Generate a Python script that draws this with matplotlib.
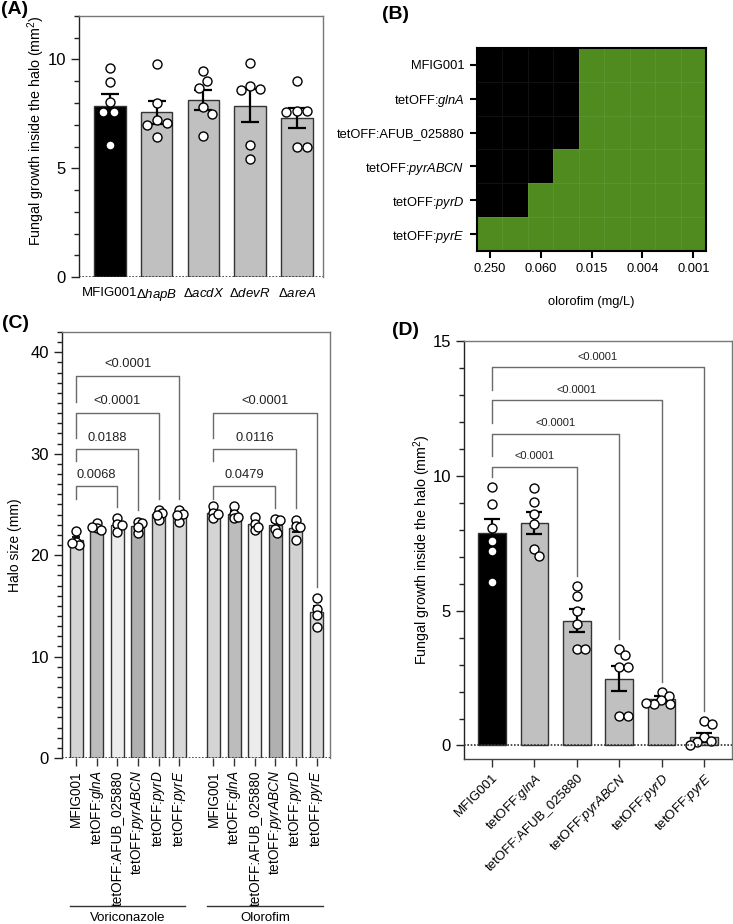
import numpy as np
import matplotlib.pyplot as plt
from matplotlib.colors import ListedColormap
from matplotlib.ticker import MultipleLocator

plt.rcParams['font.family'] = ['Liberation Sans', 'DejaVu Sans']
plt.rcParams['mathtext.fontset'] = 'custom'
plt.rcParams['mathtext.rm'] = 'Liberation Sans'
plt.rcParams['mathtext.it'] = 'Liberation Sans:italic'
plt.rcParams['mathtext.bf'] = 'Liberation Sans:bold'

# ---- data ----
strains = ['MFIG001', r'tetOFF:$\mathit{glnA}$', 'tetOFF:AFUB_025880',
           r'tetOFF:$\mathit{pyrABCN}$', r'tetOFF:$\mathit{pyrD}$', r'tetOFF:$\mathit{pyrE}$']

# (A) deletion mutants
a_labels = ['MFIG001', r'Δ$\mathit{hapB}$', r'Δ$\mathit{acdX}$', r'Δ$\mathit{devR}$', r'Δ$\mathit{areA}$']
a_means = [7.88, 7.57, 8.12, 7.88, 7.31]
a_sem = [0.54, 0.54, 0.46, 0.75, 0.48]
a_points = [[9.6, 8.95, 8.05, 7.6, 7.6, 6.05],
            [9.8, 8.0, 7.2, 7.1, 7.0, 6.45],
            [9.45, 9.0, 8.7, 7.8, 7.5, 6.5],
            [9.85, 8.8, 8.65, 8.6, 6.05, 5.43],
            [9.0, 7.65, 7.65, 7.6, 6.0, 6.0]]

# (B) growth (1) / no growth (0) on olorofim dilutions
b_conc = ['0.250', '0.125', '0.060', '0.030', '0.015', '0.008', '0.004', '0.002', '0.001']
b_growth = [[0, 0, 0, 0, 1, 1, 1, 1, 1],
            [0, 0, 0, 0, 1, 1, 1, 1, 1],
            [0, 0, 0, 0, 1, 1, 1, 1, 1],
            [0, 0, 0, 1, 1, 1, 1, 1, 1],
            [0, 0, 1, 1, 1, 1, 1, 1, 1],
            [1, 1, 1, 1, 1, 1, 1, 1, 1]]

# (C) halo size
c_groups = ['Voriconazole', 'Olorofim']
c_vori = [[22.4, 21.3, 21.0, 21.2], [23.2, 22.65, 22.5, 22.75], [23.65, 23.1, 22.3, 23.0],
          [23.3, 23.15, 22.15, 22.8], [24.4, 24.15, 23.5, 24.0], [24.4, 23.3, 24.1, 24.0]]
c_olo = [[24.85, 24.15, 23.65, 24.1], [24.85, 24.1, 23.65, 23.8], [23.75, 23.1, 22.5, 22.8],
         [23.55, 23.5, 22.55, 22.15], [23.5, 22.9, 22.8, 21.5], [15.75, 14.7, 14.05, 12.95]]
c_pvals_vori = ['0.0068', '0.0188', '<0.0001', '<0.0001']   # vs MFIG001 for strains 2..5
c_pvals_olo = ['0.0479', '0.0116', '<0.0001']             # vs MFIG001 for strains 3..5

# (D) tetOFF strains growth inside halo
d_means = [7.88, 8.25, 4.63, 2.48, 1.73, 0.3]
d_sem = [0.53, 0.4, 0.42, 0.45, 0.1, 0.17]
d_points = [[9.6, 8.95, 8.05, 7.6, 7.2, 6.05],
            [9.55, 9.03, 8.57, 8.23, 7.27, 7.01],
            [5.9, 5.55, 5.0, 4.52, 3.57, 3.57],
            [3.59, 3.35, 2.92, 2.92, 1.09, 1.09],
            [2.0, 1.83, 1.67, 1.52, 1.52, 1.59],
            [0.9, 0.78, 0.32, 0.16, 0.12, 0.0]]
d_pvals = ['<0.0001', '<0.0001', '<0.0001', '<0.0001']  # vs MFIG001 for strains 2..5

GREEN = '#4f8b1f'
LINE = '#6a6a6a'

fig = plt.figure(figsize=(7.33, 9.24), dpi=100)
axA = fig.add_axes([0.1078, 0.7002, 0.3329, 0.2825])
axB = fig.add_axes([0.6508, 0.7284, 0.3124, 0.2197])
axC = fig.add_axes([0.0846, 0.1797, 0.3656, 0.4610])
axD = fig.add_axes([0.6330, 0.1786, 0.3656, 0.4524])


def swarm(ax, x, vals, diam=9.0):
    # simple beeswarm in pixel space
    bb = ax.get_position()
    fw, fh = fig.get_size_inches() * fig.dpi
    x0, x1 = ax.get_xlim()
    y0, y1 = ax.get_ylim()
    sx = bb.width * fw / (x1 - x0)
    sy = bb.height * fh / (y1 - y0)
    placed = []
    xs = []
    for v in vals:
        y = v * sy
        cands = [0.0]
        for px, py in placed:
            dy = abs(y - py)
            if dy < diam:
                w = np.sqrt(diam ** 2 - dy ** 2)
                cands += [px + w, px - w]
        cands.sort(key=abs)
        for c in cands:
            if all((c - px) ** 2 + (y - py) ** 2 >= diam ** 2 - 1e-6 for px, py in placed):
                break
        placed.append((c, y))
        xs.append(x + c / sx)
    ax.scatter(xs, vals, s=42, facecolor='white', edgecolor='black', linewidth=1,
               zorder=5, clip_on=False)


def frame(ax, zero_dotted=True):
    ax.spines['left'].set_color('#222222')
    for s in ['top', 'right']:
        ax.spines[s].set_color('#777777')
    for s in ax.spines.values():
        s.set_linewidth(1)
    if zero_dotted:
        ax.axhline(0, color='#333333', lw=1.2, ls=(0, (1, 1)), zorder=6)
    ax.tick_params(axis='y', which='major', length=6, width=1, labelsize=12, color='#222222')
    ax.tick_params(axis='y', which='minor', length=3.5, width=1, color='#222222')


def bracket(ax, x1, x2, y, left_drop, right_end, text, fs):
    ax.plot([x1, x1, x2, x2], [y - left_drop, y, y, right_end], color=LINE, lw=1, zorder=2,
            clip_on=False)
    ax.annotate(text, ((x1 + x2) / 2, y), xytext=(0, 4), textcoords='offset points',
                ha='center', va='bottom', fontsize=fs, color='#222222')


# ---- (A) ----
xa = np.arange(len(a_labels))
axA.set_xlim(-0.66, 4.56)
axA.set_ylim(0, 12)
axA.bar(xa, a_means, width=0.67, color=['black'] + ['#c0c0c0'] * 4, edgecolor='#333333',
        linewidth=1, zorder=2)
axA.errorbar(xa, a_means, yerr=a_sem, fmt='none', ecolor='black', elinewidth=1.6,
             capsize=6.5, capthick=1.6, zorder=4)
for i, pts in enumerate(a_points):
    swarm(axA, xa[i], pts, diam=10.5)
frame(axA)
axA.spines['bottom'].set_visible(False)
axA.yaxis.set_major_locator(MultipleLocator(5))
axA.yaxis.set_minor_locator(MultipleLocator(1))
axA.set_xticks(xa)
axA.set_xticklabels(a_labels, fontsize=9.5)
axA.tick_params(axis='x', length=0, pad=7)
axA.set_ylabel('Fungal growth inside the halo (mm$^2$)', fontsize=10.3)
axA.yaxis.set_label_coords(-0.131, 0.56)

# ---- (B) ----
grid = np.array(b_growth)
axB.pcolormesh(np.arange(grid.shape[1] + 1) - 0.5, np.arange(grid.shape[0] + 1) - 0.5, grid,
               cmap=ListedColormap(['black', GREEN]), vmin=0, vmax=1,
               edgecolors=(1, 1, 1, 0.07), linewidth=0.6)
axB.set_xlim(-0.5, grid.shape[1] - 0.5)
axB.set_ylim(grid.shape[0] - 0.5, -0.5)
axB.set_yticks(np.arange(len(strains)))
axB.set_yticklabels(strains, fontsize=9.3)
axB.set_xticks(np.arange(0, len(b_conc), 2))
axB.set_xticklabels(b_conc[::2], fontsize=9.3)
axB.tick_params(length=5, width=1.5, pad=4)
for s in axB.spines.values():
    s.set_linewidth(1.5)
axB.set_xlabel('olorofim (mg/L)', fontsize=9.3, labelpad=15)

# ---- (C) ----
c_colors = ['#d4d4d4', '#bcbcbc', '#ececec', '#b0b0b0', '#d2d2d2', '#d8d8d8']
gap = 6.66
xc = [np.arange(6), np.arange(6) + gap]
axC.set_xlim(-0.68, 5 + gap + 0.65)
axC.set_ylim(0, 42)
for g, data in enumerate([c_vori, c_olo]):
    means = [np.mean(p) for p in data]
    sems = [np.std(p, ddof=1) / np.sqrt(len(p)) for p in data]
    axC.bar(xc[g], means, width=0.63, color=c_colors, edgecolor='#333333', linewidth=1, zorder=2)
    axC.errorbar(xc[g], means, yerr=sems, fmt='none', ecolor='black', elinewidth=1.3,
                 capsize=3, capthick=1.3, zorder=4)
    for i, pts in enumerate(data):
        swarm(axC, xc[g][i], pts, diam=4.5)
frame(axC)
axC.spines['bottom'].set_visible(False)
axC.yaxis.set_major_locator(MultipleLocator(10))
axC.yaxis.set_minor_locator(MultipleLocator(1))
axC.set_xticks(np.concatenate(xc))
axC.set_xticklabels(strains * 2, rotation=90, fontsize=9.8, va='top', ha='center')
axC.tick_params(axis='x', length=6, width=1, color='#333333', pad=3)
axC.set_ylabel('Halo size (mm)', fontsize=10)
axC.yaxis.set_label_coords(-0.149, 0.5)

levels_c = [26.8, 30.42, 34.05, 37.68]
drops_c = [1.25, 1.1, 2.5, 2.6]
for g, pv in enumerate([c_pvals_vori, c_pvals_olo]):
    data = [c_vori, c_olo][g]
    targets = list(range(6 - len(pv), 6))
    for k, (t, p) in enumerate(zip(targets, pv)):
        bracket(axC, xc[g][0], xc[g][t], levels_c[k], drops_c[k], max(data[t]) + 1.1, p, 9.3)

trans = axC.get_xaxis_transform()
for g, name in enumerate(c_groups):
    x1, x2 = xc[g][0] - 0.3, xc[g][-1] + 0.3
    axC.plot([x1, x2], [-0.347, -0.347], transform=trans, color='#333333', lw=1, clip_on=False)
    axC.text((x1 + x2) / 2, -0.362, name, transform=trans, ha='center', va='top', fontsize=9.5)

# ---- (D) ----
xd = np.arange(len(strains))
axD.set_xlim(-0.66, 5.66)
axD.set_ylim(-0.5, 15)
axD.bar(xd, d_means, width=0.65, color=['black'] + ['#c0c0c0'] * 5, edgecolor='#333333',
        linewidth=1, zorder=2)
axD.errorbar(xd, d_means, yerr=d_sem, fmt='none', ecolor='black', elinewidth=1.6,
             capsize=5.5, capthick=1.6, zorder=4)
for i, pts in enumerate(d_points):
    swarm(axD, xd[i], pts, diam=8.5)
frame(axD)
axD.spines['bottom'].set_color('#444444')
axD.yaxis.set_major_locator(MultipleLocator(5))
axD.set_yticks(np.arange(0, 16, 1), minor=True)
axD.set_xticks(xd)
axD.set_xticklabels(strains, rotation=45, ha='right', rotation_mode='anchor', fontsize=9.5)
axD.tick_params(axis='x', length=6, width=1, color='#333333', pad=3)
axD.set_ylabel('Fungal growth inside the halo (mm$^2$)', fontsize=10.3)
axD.yaxis.set_label_coords(-0.116, 0.5)

levels_d = [10.34, 11.56, 12.8, 14.03]
drops_d = [0.37, 0.84, 0.84, 0.84]
for k, (t, p) in enumerate(zip(range(2, 6), d_pvals)):
    bracket(axD, xd[0], xd[t], levels_d[k], drops_d[k], max(d_points[t]) + 0.37, p, 8)

# panel letters
for lbl, x, y in [('(A)', 0.002, 0.999), ('(B)', 0.521, 0.994), ('(C)', 0.003, 0.659), ('(D)', 0.535, 0.651)]:
    fig.text(x, y, lbl, fontsize=14, fontweight='bold', va='top', ha='left')

fig.savefig('out.png', dpi=100)
